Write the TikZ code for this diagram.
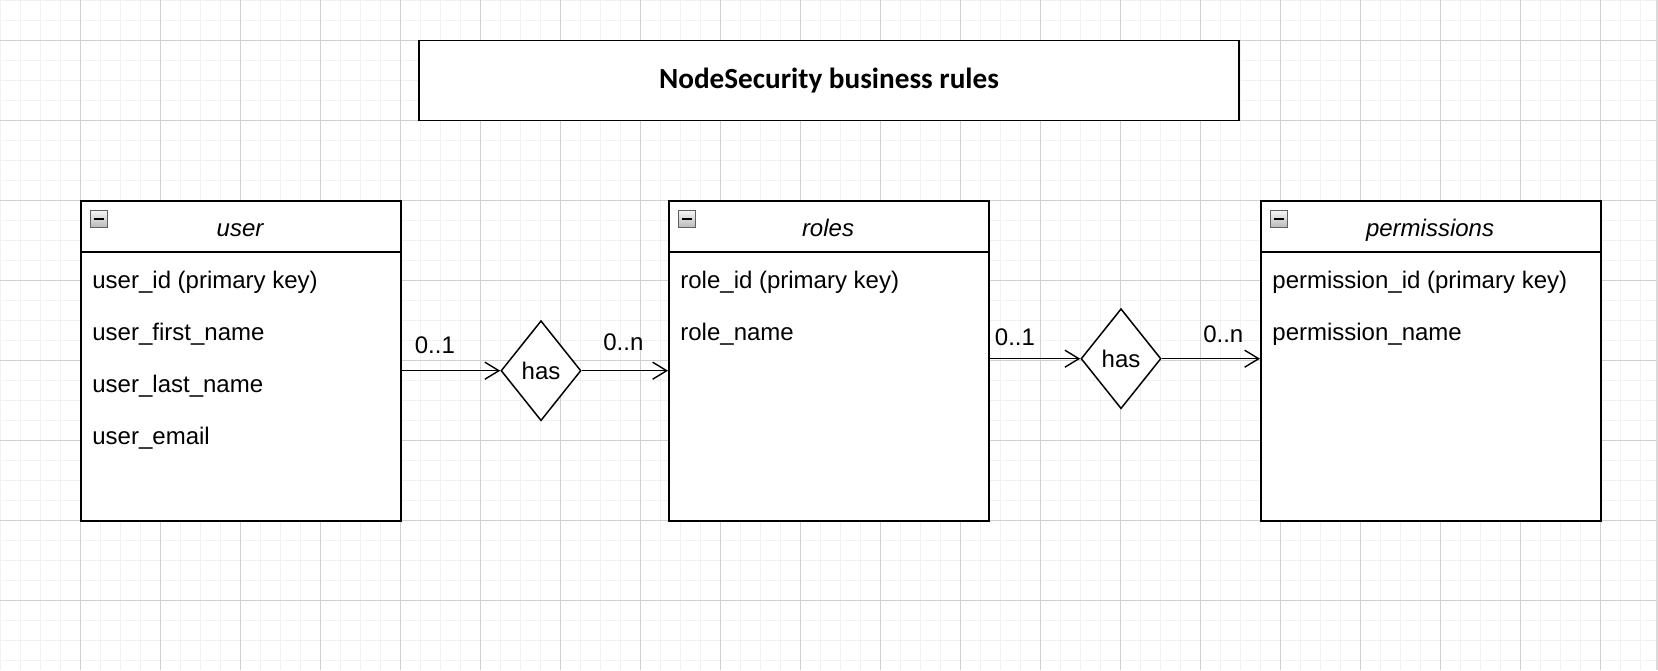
\documentclass[tikz,border=0pt]{standalone}
\usepackage{fontspec}
\setmainfont{Liberation Sans}
\newfontfamily\titlefont{Carlito}
\usetikzlibrary{arrows.meta,shapes.geometric}
\definecolor{gridminor}{HTML}{F1F1F1}
\definecolor{gridmajor}{HTML}{D0D0D0}
\tikzset{
  boxline/.style={draw=black,line width=0.75pt},
  entity/.style={boxline,rectangle,minimum height=160pt,inner sep=0pt,anchor=north west,fill=white},
  fieldtext/.style={anchor=base west,inner sep=0pt,font=\fontsize{12}{14}\selectfont},
  headtext/.style={anchor=base,inner sep=0pt,font=\fontsize{12}{14}\selectfont\itshape},
  relation/.style={boxline,diamond,fill=white,inner sep=0pt,minimum width=40pt,minimum height=50pt,font=\fontsize{12}{14}\selectfont},
  conn/.style={line width=0.7pt,-{Straight Barb[length=7pt,width=8.5pt,line width=0.7pt]}},
  card/.style={anchor=base,inner sep=0pt,font=\fontsize{12}{14}\selectfont},
  collapse/.pic={
    \shadedraw[top color=gray!8,bottom color=gray!55,draw=gray!75!black,line width=0.5pt] (0,0) rectangle (17,17);
    \draw[line width=1pt] (3.5,8) -- (13.5,8);
  }
}
\begin{document}
\begin{tikzpicture}[x=0.5pt,y=-0.5pt]
\useasboundingbox (0,0) rectangle (1658,670);
% background grid
\fill[white] (0,0) rectangle (1658,670);
\foreach \x in {0,20,...,1640} \draw[gridminor,line width=0.5pt] (\x,0) -- (\x,670);
\foreach \y in {0,20,...,660} \draw[gridminor,line width=0.5pt] (0,\y) -- (1658,\y);
\foreach \x in {80,160,...,1600} \draw[gridmajor,line width=0.5pt] (\x,0) -- (\x,670);
\foreach \y in {40,120,...,600} \draw[gridmajor,line width=0.5pt] (0,\y) -- (1658,\y);
\draw[gridmajor!80,line width=1pt] (1657,0) -- (1657,670);

% title
\node[boxline,rectangle,fill=white,minimum width=410pt,minimum height=40pt,inner sep=0pt,
      font=\titlefont\bfseries\fontsize{14.6}{17}\selectfont] (title) at (829,80.5) {NodeSecurity business rules};

% entities
\node[entity,minimum width=160pt] (user) at (80,200) {};
\node[entity,minimum width=160pt] (roles) at (668,200) {};
\node[entity,minimum width=170pt] (perm) at (1260,200) {};

\foreach \e in {user,roles,perm} {
  \draw[boxline] ([yshift=-26pt]\e.north west) -- ([yshift=-26pt]\e.north east);
  \pic at ([xshift=5pt,yshift=-5.3pt]\e.north west) {collapse};
}

\node[headtext] (userh) at (240,236) {user};
\node[headtext] (rolesh) at (828,236) {roles};
\node[headtext] (permh) at (1430,236) {permissions};

\node[fieldtext] (u1) at (92,288) {user\_id (primary key)};
\node[fieldtext] (u2) at (92,340) {user\_first\_name};
\node[fieldtext] (u3) at (92,392) {user\_last\_name};
\node[fieldtext] (u4) at (92,444) {user\_email};

\node[fieldtext] (r1) at (680,288) {role\_id (primary key)};
\node[fieldtext] (r2) at (680,340) {role\_name};

\node[fieldtext] (p1) at (1272,288) {permission\_id (primary key)};
\node[fieldtext] (p2) at (1272,340) {permission\_name};

% relations
\node[relation] (has1) at (541,370.7) {has};
\node[relation] (has2) at (1121,358.7) {has};

% connectors
\draw[conn] (has1.west -| user.east) -- node[card,pos=0.338,yshift=8.7pt] (c1) {0..1} (has1.west);
\draw[conn] (has1.east) -- node[card,pos=0.483,yshift=10.35pt] (c2) {0..n} (has1.east -| roles.west);
\draw[conn] (has2.west -| roles.east) -- node[card,pos=0.28,yshift=6.85pt] (c3) {0..1} (has2.west);
\draw[conn] (has2.east) -- node[card,pos=0.626,yshift=8.15pt] (c4) {0..n} (has2.east -| perm.west);
\end{tikzpicture}
\end{document}
